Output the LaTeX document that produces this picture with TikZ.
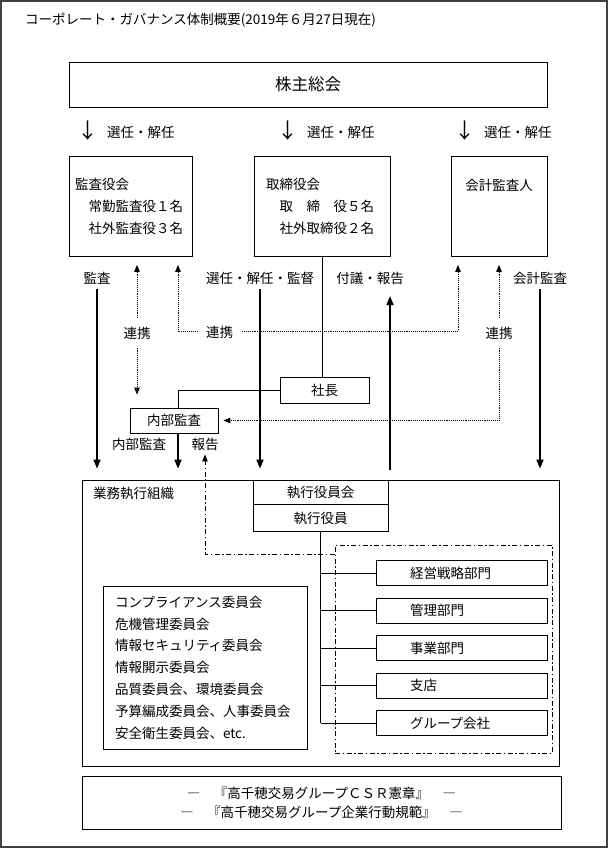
\documentclass[tikz,border=0pt]{standalone}
\usepackage{fontspec}
\setmainfont{Noto Sans CJK JP}
\usetikzlibrary{positioning,arrows.meta}

\begin{document}
\begin{tikzpicture}[x=1pt,y=-1pt,
    box/.style={draw,line width=0.8pt,inner sep=0pt,font=\fontsize{13.5}{22}\selectfont},
    lbl/.style={inner sep=1pt,font=\fontsize{13.5}{16}\selectfont},
    arr/.style={line width=1.6pt,-{Triangle[length=9pt,width=7pt]}},
    dotarr/.style={line width=0.9pt,densely dotted,{Triangle[length=7pt,width=5.5pt]}-{Triangle[length=7pt,width=5.5pt]}},
    dashdot/.style={line width=0.9pt,dash pattern=on 5pt off 2.5pt on 1.5pt off 2.5pt},
    link/.style={line width=0.8pt}]

    \useasboundingbox (0,0) rectangle (610,849);
    \draw[line width=1.5pt,black!75] (1,1) rectangle (607,847);

    \node[lbl,anchor=west] (title) at (24,20) {コーポレート・ガバナンス体制概要(2019年６月27日現在)};

    % shareholders and the three organs
    \node[box,minimum width=478pt,minimum height=45pt,font=\fontsize{16.5}{20}\selectfont] (kabu) at (308,84.5) {株主総会};
    \foreach \n/\x in {sel1/88,sel2/288,sel3/465} {
        \node[lbl,font=\fontsize{21}{21}\selectfont] (\n a) at (\x,131) {↓};
        \node[lbl,anchor=west] (\n) at (\x+18,132) {選任・解任};
    }

    \node[box,minimum width=123pt,minimum height=100pt,text width=111pt,align=left] (kansa) at (130.5,206.5) {監査役会\\　常勤監査役１名\\　社外監査役３名};
    \node[box,minimum width=136pt,minimum height=100pt,text width=112pt,align=left] (tori) at (322,206.5) {取締役会\\　取　締　役５名\\　社外取締役２名};
    \node[box,minimum width=96pt,minimum height=100pt,align=center] (kaikei) at (499,206.5) {会計監査人\\\mbox{}\\\mbox{}};

    \node[lbl] (lKansa) at (97,278) {監査};
    \node[lbl] (lSen) at (260,278) {選任・解任・監督};
    \node[lbl] (lFugi) at (370,278) {付議・報告};
    \node[lbl] (lKaikei) at (540,278) {会計監査};

    \node[box,minimum width=89pt,minimum height=26pt] (shacho) at (324.5,390) {社長};
    \node[box,minimum width=88pt,minimum height=25pt] (naibu) at (174,420.5) {内部監査};
    \node[lbl] (lNaibu) at (139,444) {内部監査};
    \node[lbl] (lHoukoku) at (205,444) {報告};

    % business execution
    \node[box,minimum width=477pt,minimum height=286pt] (gyomu) at (320.5,623) {};
    \node[lbl,anchor=west] (gyomuT) at (92,493) {業務執行組織};
    \node[box,minimum width=135pt,minimum height=24pt] (ykai) at (320.5,492) {執行役員会};
    \node[box,minimum width=135pt,minimum height=27pt,below=0pt of ykai] (yaku) {執行役員};

    \node[draw,dashdot,minimum width=217pt,minimum height=208pt,inner sep=0pt] (bumon) at (443.5,649) {};
    \foreach \n/\t/\y in {keiei/経営戦略部門/573,kanri/管理部門/610.5,jigyo/事業部門/648,shiten/支店/685.5,group/グループ会社/723} {
        \node[box,minimum width=171pt,minimum height=25pt,text width=103pt,align=left] (\n) at (461.5,\y) {\t};
        \draw[link] (yaku.south |- \n.west) -- (\n.west);
    }
    \draw[link] (yaku.south) -- (yaku.south |- group.west);

    \node[box,minimum width=204pt,minimum height=163pt,text width=180pt,align=left,font=\fontsize{13.5}{21.8}\selectfont] (iinkai) at (205,667.5) {コンプライアンス委員会\\危機管理委員会\\情報セキュリティ委員会\\情報開示委員会\\品質委員会、環境委員会\\予算編成委員会、人事委員会\\安全衛生委員会、etc.};

    \node[box,minimum width=479pt,minimum height=53pt,align=center,font=\fontsize{13.5}{19}\selectfont] (kensho) at (321.5,802.5) {―　『高千穂交易グループＣＳＲ憲章』　―\\―　『高千穂交易グループ企業行動規範』　―};

    % solid connectors
    \draw[arr,shorten <=4pt,shorten >=11pt] (lKansa.south) -- (lKansa.south |- gyomu.north);
    \draw[arr,shorten <=4pt,shorten >=11pt] (lSen.south) -- (lSen.south |- gyomu.north);
    \draw[arr,shorten <=4pt,shorten >=11pt] (lKaikei.south) -- (lKaikei.south |- gyomu.north);
    \coordinate (fugi) at (390,296);
    \draw[arr,shorten <=10pt] (gyomu.north -| fugi) -- (fugi);
    \draw[link] (tori.south) -- (tori.south |- shacho.north);
    \draw[link] (shacho.west) -| ([xshift=4pt]naibu.north);
    \draw[arr,shorten >=11pt] ([xshift=4pt]naibu.south) -- ([xshift=4pt]naibu.south |- gyomu.north);

    % dotted links
    \draw[dotarr,shorten <=8pt,shorten >=13pt] ([xshift=6.5pt]kansa.south) -- ([xshift=6.5pt]kansa.south |- naibu.north);
    \node[lbl,fill=white,inner ysep=9pt] (ren1) at (137,333) {連携};
    \coordinate (renY) at (0,331);
    \draw[dotarr,shorten <=8pt,shorten >=8pt] ([xshift=47.5pt]kansa.south) -- ([xshift=47.5pt]kansa.south |- renY)
        -- ([xshift=-41pt]kaikei.south |- renY) -- ([xshift=-41pt]kaikei.south);
    \node[lbl,fill=white,inner xsep=8pt] (ren2) at (219.5,332) {連携};
    \draw[dotarr,shorten <=8pt,shorten >=5pt] (kaikei.south) |- (naibu.east);
    \node[lbl,fill=white,inner ysep=9pt] (ren3) at (499,333) {連携};

    % report line
    \coordinate (hk) at (205,554);
    \draw[dashdot,-{Triangle[length=7pt,width=5.5pt]},shorten >=3pt] (bumon.west |- hk) -| (lHoukoku.south);

\end{tikzpicture}
\end{document}
